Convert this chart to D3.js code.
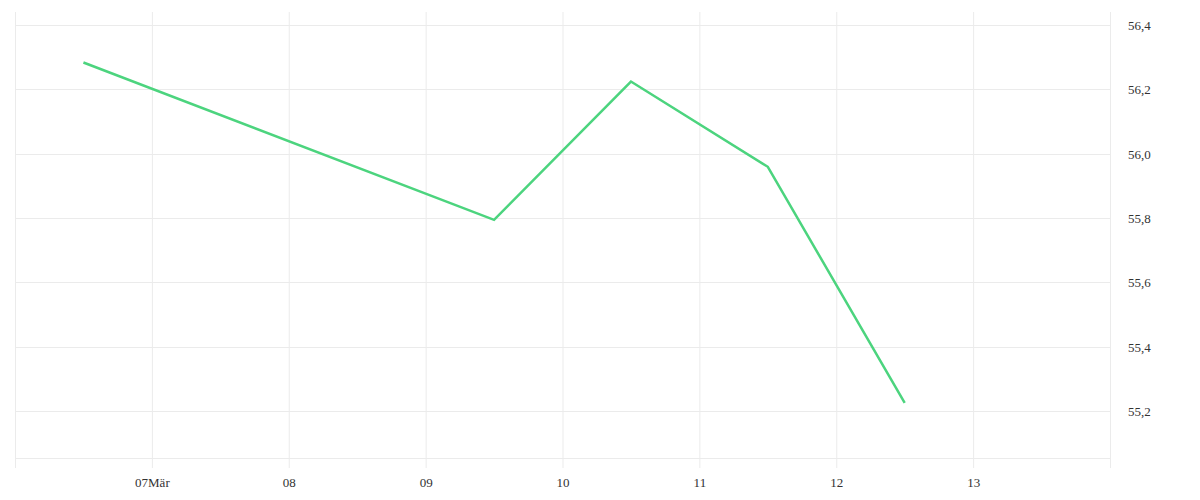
<!DOCTYPE html>
<html>
<head>
<meta charset="utf-8">
<script src="https://cdn.jsdelivr.net/npm/d3@7"></script>
<style>
  body { margin: 0; background: #fff; }
</style>
</head>
<body>
<svg id="chart" width="1200" height="500"></svg>
<script>
// data
var dates = ["2020-03-06T12:00", "2020-03-09T12:00", "2020-03-10T12:00", "2020-03-11T12:00", "2020-03-12T12:00"];
var values = [56.283, 55.794, 56.224, 55.959, 55.225];
var yTicks = [55.2, 55.4, 55.6, 55.8, 56.0, 56.2, 56.4];
var xTickDays = ["2020-03-06", "2020-03-07", "2020-03-08", "2020-03-09", "2020-03-10", "2020-03-11", "2020-03-12", "2020-03-13", "2020-03-14"];
var xTickLabels = ["", "07Mär", "08", "09", "10", "11", "12", "13", ""];

const svg = d3.select("#chart");
const plotLeft = 15, plotRight = 1110, plotTop = 12, plotBottom = 458;
const labelFont = "'Liberation Serif', 'DejaVu Serif', serif";

const parse = d3.timeParse("%Y-%m-%dT%H:%M");
const parseDay = d3.timeParse("%Y-%m-%d");

const x = d3.scaleTime()
    .domain([parseDay("2020-03-06"), parseDay("2020-03-14")])
    .range([plotLeft, plotRight]);

const y = d3.scaleLinear()
    .domain([55.054, 56.44])
    .range([plotBottom, plotTop]);

const grid = "#ebebeb";

// horizontal grid
svg.append("g")
    .selectAll("line")
    .data(yTicks)
    .enter().append("line")
    .attr("x1", plotLeft).attr("x2", plotRight)
    .attr("y1", d => Math.round(y(d)) + 0.5)
    .attr("y2", d => Math.round(y(d)) + 0.5)
    .attr("stroke", grid);

// bottom line
svg.append("line")
    .attr("x1", plotLeft).attr("x2", plotRight)
    .attr("y1", plotBottom + 0.5).attr("y2", plotBottom + 0.5)
    .attr("stroke", grid);

// x axis with gridlines
var xDays = xTickDays.map(parseDay);
const xAxis = d3.axisBottom(x)
    .tickValues(xDays)
    .tickSize(-(plotBottom - plotTop) - 10)
    .tickFormat((d, i) => xTickLabels[i]);

const gx = svg.append("g")
    .attr("transform", "translate(0," + (plotBottom + 10) + ")")
    .call(xAxis);
gx.select(".domain").remove();
gx.selectAll(".tick line").attr("stroke", grid);
gx.selectAll(".tick text").attr("dy", "0").attr("y", 19);

// y axis labels on right
const yAxis = d3.axisRight(y)
    .tickValues(yTicks)
    .tickSize(0)
    .tickFormat(d => d3.format(".1f")(d).replace(".", ","));
const gy = svg.append("g")
    .attr("transform", "translate(" + (plotRight + 18) + ",0)")
    .call(yAxis);
gy.select(".domain").remove();
gy.selectAll(".tick text").attr("x", 0).attr("dy", "0.65em").attr("text-anchor", "start");
gy.selectAll(".tick text").attr("y", -4);

[gx, gy].forEach(g => {
    g.attr("font-family", labelFont).attr("font-size", 13);
    g.selectAll(".tick text")
        .style("font-family", labelFont)
        .style("font-size", "13px")
        .attr("fill", "#333");
});

// line
const pts = dates.map((d, i) => ({ date: parse(d), value: values[i] }));
const line = d3.line()
    .x(d => x(d.date))
    .y(d => y(d.value));

svg.append("path")
    .datum(pts)
    .attr("fill", "none")
    .attr("stroke", "#4cd47e")
    .attr("stroke-width", 2.5)
    .attr("stroke-linejoin", "miter")
    .attr("d", line);
</script>
</body>
</html>
